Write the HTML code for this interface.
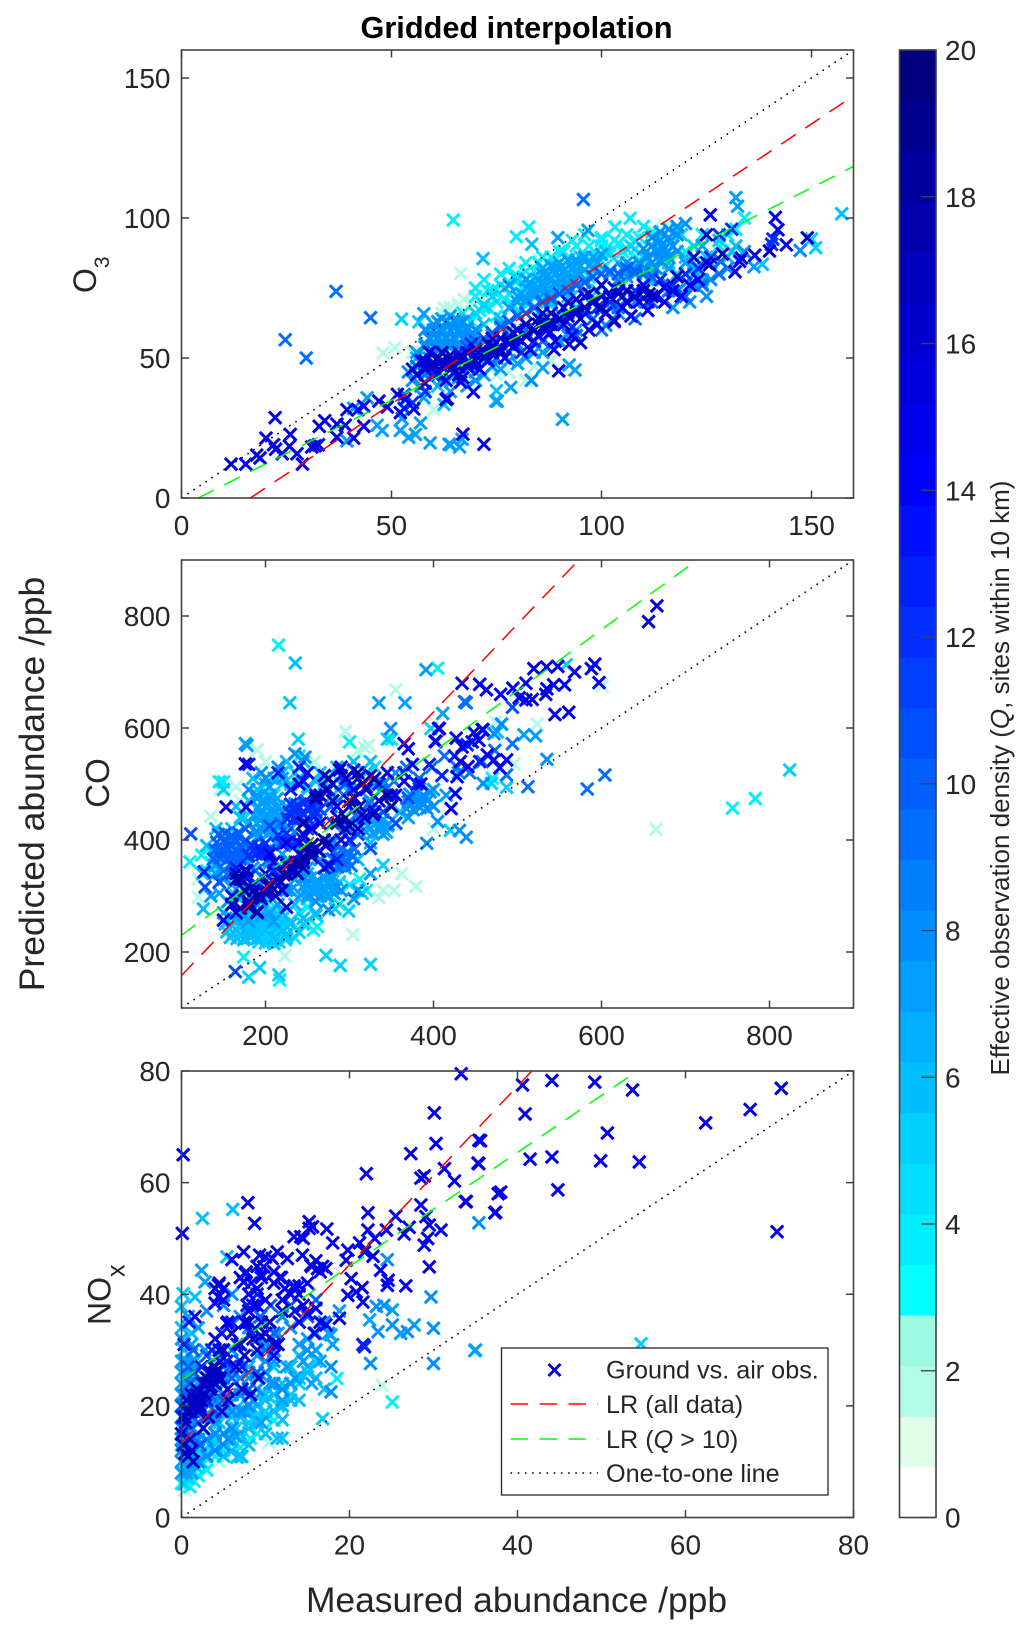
<!DOCTYPE html>
<html lang="en">
<head>
<meta charset="utf-8">
<title>Gridded interpolation</title>
<style>
html,body{margin:0;padding:0;background:#fff;}
svg{display:block;}
text{font-family:"Liberation Sans",sans-serif;fill:#262626;}
</style>
</head>
<body>
<svg id="figure" xmlns="http://www.w3.org/2000/svg" width="1033" height="1636" viewBox="0 0 1033 1636">
<rect x="0" y="0" width="1033" height="1636" fill="#fff"/>
<text x="516.5" y="38" text-anchor="middle" font-size="30.7" font-weight="bold" style="fill:#000">Gridded interpolation</text>
<text transform="translate(44,784) rotate(-90)" text-anchor="middle" font-size="35.5">Predicted abundance /ppb</text>
<text x="516.5" y="1612" text-anchor="middle" font-size="35.4">Measured abundance /ppb</text>
<text transform="translate(96,293) rotate(-90)" font-size="32">O<tspan font-size="21" dy="13">3</tspan></text>
<text transform="translate(109,783) rotate(-90)" text-anchor="middle" font-size="33">CO</text>
<text transform="translate(110.5,1325) rotate(-90)" font-size="32">NO<tspan font-size="25" dy="14">x</tspan></text>
<text transform="translate(1009,778) rotate(-90)" text-anchor="middle" font-size="26">Effective observation density (<tspan font-style="italic">Q</tspan>, sites within 10 km)</text>
<g id="panels"></g>
<g id="colorbar"></g>
<g id="legend">
  <rect x="501.5" y="1348" width="326.5" height="147" fill="#fff" stroke="#262626" stroke-width="1.3"/>
  <path d="M548.5 1364L560.5 1376M548.5 1376L560.5 1364" stroke="#0000e0" stroke-width="2.9" fill="none"/>
  <text x="606" y="1378.5" font-size="25.2">Ground vs. air obs.</text>
  <line x1="510.5" y1="1404" x2="598" y2="1404" stroke="#ff0000" stroke-width="1.4" stroke-dasharray="17.5 11.5"/>
  <text x="606" y="1413" font-size="25.2">LR (all data)</text>
  <line x1="510.5" y1="1439" x2="598" y2="1439" stroke="#00ff00" stroke-width="1.4" stroke-dasharray="17.5 11.5"/>
  <text x="606" y="1448" font-size="25.2">LR (<tspan font-style="italic">Q</tspan> &gt; 10)</text>
  <line x1="510.5" y1="1473" x2="598" y2="1473" stroke="#000" stroke-width="1.5" stroke-dasharray="1.6 5.6"/>
  <text x="606" y="1482" font-size="25.2">One-to-one line</text>
</g>
</svg>
<script>
/* ---------- O3 panel ---------- */
const o3XTicks = [0,50,100,150];
const o3YTicks = [0,50,100,150];
const o3RedX = [16.4,160];
const o3RedY = [0,143.6];
const o3GreenX = [4,160];
const o3GreenY = [0,118.4];
const o3OneX = [0,160];
const o3OneY = [0,160];
const o3Q2x = [48,50.8,60,62.5,62,64,66,67.3,69,66.5,
71,72,60,58,55,53,57,75,78,82,
85,90,112,115,128,130,84,88,76,80];
const o3Q2y = [51.8,53.7,31.5,67.9,66,68,69,70.9,70,80.2,
72,75,58,55,52,33,37,44,45,42,
85,88,96,97,92,90,47,49,76,82];
const o3Q4x = [64.7,79.7,82.7,103.2,106.8,96,93,100,110,118,
70,72,74,76,78,80,82,84,86,88,
90,92,94,96,98,100,102,104,106,108,
73,77,81,85,89,93,97,101,105,109,
112,116,120,124,128,132,134,122,126,130,
62,65,67,69,71,75,79,83,87,91];
const o3Q4y = [99.3,93.3,96.8,96.8,99.9,94,92,93,97,96,
75,78,74,80,82,79,84,81,86,83,
88,85,90,86,84,90,87,91,89,92,
68,71,73,76,78,81,79,83,82,85,
90,92,88,94,90,96,100,84,86,94,
61,64,66,63,67,65,69,70,72,74];
const o3WashX = [70,73,76,79,82,85,88,91,94,97,
100,103,106,109,112,72,75,78,81,84,
87,90,93,96,99,102,105,108];
const o3WashY = [72,74,76,79,81,84,86,88,90,90,
92,92,94,93,95,68,70,73,75,78,
80,82,84,86,86,88,88,89];
const o3Q5x = [52.4,56.5,151,150,60,63,66,68,70,72,
74,77,80,83,86,89,92,95,98,101,
104,107,110,113,116,119,122,125,128,131,
87,90,93,96,99,102,105,108,111,114];
const o3Q5y = [63.9,62.9,89.4,92.5,60,58,62,64,66,69,
72,75,78,74,80,83,79,86,82,88,
84,90,86,92,88,94,90,86,92,88,
70,75,72,78,74,80,76,82,78,84];
const o3Q6x = [71.8,83.4,157.2,138.3,62.5,60,56,58,64,66,
68,70,72,74,76,78,80,82,84,86,
88,90,92,94,96,98,100,102,104,106,
108,110,112,114,116,118,120,122,124,126,
128,130,132,75,74.8,61,59,65,69,73];
const o3Q6y = [85.5,90.6,101.5,83.5,33.4,56,50,45,56,52,
60,56,62,58,64,60,66,62,68,64,
70,66,72,68,74,70,76,72,78,74,
80,76,82,78,84,80,86,82,78,84,
80,86,90,38.3,34.6,40,43,44,47,50];
const o3Q7x = [132,132.4,120.3,136.3,96.8,89.6,92.3,93.7,86,83.3,
78.4,90.7,47.8,46.6,52.1,54.1,56.9,55.7,59.2,64.1,
63.7,66.2,66.8,39.4,44.2,41,52.5,57.7,57.7,75.2,
56,58,60,62,64,66,68,70,57,59,
61,63,65,67,69,71,60,62,64,66,
76,78,80,82,84,86,88,90,92,94,
78,82,86,90,94,98,102,106,110,114,
112,116,120,118,122,124,114,110,106,102];
const o3Q7y = [107.3,104.2,77,82.6,95.6,93,47.5,45.7,46.5,42,
39.5,28.1,24.1,26,24.1,21.7,26.8,22.7,19.7,19,
19.2,18.2,21,20.4,35.8,32,28.4,35.8,65.8,34.6,
52,55,58,60,62,63,61,58,48,50,
53,55,57,59,56,54,62,64,65,54,
62,68,72,70,74,76,72,78,76,80,
76,78,80,82,84,82,80,84,80,88,
78,82,84,88,80,90,90,74,70,68];
const o3FringeX = [62,66,70,74,78,82,86,90,94,64,
68,72,76,80,84,88,92];
const o3FringeY = [42,43,45,47,49,50,52,56,60,38,
40,44,46,48,52,54,58];
const o3Q8x = [147.3,123.9,83.3,101,54,55,57,70,74,78,
80,84,88,92,96,100,104,108,112,116,
118,122,126,128.4,130,134,125,121,117,113];
const o3Q8y = [88.4,76.7,42,61.7,45,42,40,42,47,52,
55,60,62,66,68,72,66,70,72,76,
74,76,78,84.5,82,88,72,70,68,82];
const o3BlobAx = [58,60,62,64,66,68,70,59,61,63,65,67,69,58,60,62,64,66,68,70,61,63,65,67];
const o3BlobAy = [54,54,54,54,54,54,54,57,57,57,57,57,57,60,60,60,60,60,60,60,63,63,63,63];
const o3BlobBx = [80,82,84,86,88,90,92,81,83,85,87,89,91,93,95,83,85,87,89,91,93,95,97,99,86,88,90,92,94,96,98,100];
const o3BlobBy = [70,71,72,73,74,75,76,73,74,75,76,77,78,79,80,77,78,79,80,81,82,83,83,84,82,83,84,85,85,86,86,87];
const o3BlobCx = [104,106,108,110,112,114,116,105,107,109,111,113,115,117,110,112,114,116,118,112,114,116,118,120];
const o3BlobCy = [78,79,80,82,84,85,86,82,83,84,86,88,89,90,89,90,92,93,94,93,95,96,97,98];
const o3Q9x = [95.7,45,36.8,24.7,29.7,128.4,53,56,58,60,
62,66,70,74,78,82,86,90,94,98,
100,104,108,112,116,120,124,128,75,79];
const o3Q9y = [106.6,64.4,73.8,56.5,50,84.5,37,47,44,52,
47,50,52,55,58,60,56,62,58,64,
60,68,64,70,74,72,76,80,50,54];
const o3MidX = [66,68,70,72,74,76,78,80,82,84,86,88,90,92,94,96,98,100,102,104,106,108,110,112];
const o3MidY = [52,54,56,57,59,61,63,65,66,68,70,71,73,74,76,77,79,80,81,80,82,81,80,79];
const o3Q12x = [140.8,60,63,66,69,72,75,78,81,84,
87,90,93,96,99,102,105,108,111,114,
117,120,123,126,55,58,53,128,140.5,131];
const o3Q12y = [92.5,44,48,52,55,50,53,57,52,56,
62,64,61,66,68,70,72,74,70,78,
76,80,82,86,34,38,32,94,90.6,96];
const o3Q15x = [11.8,15.3,17.9,18.7,20.1,22.3,21.9,22.4,24,25.9,
25.7,27.5,28.8,31,31.8,32.6,32.8,34.1,37,37,
39,39.4,42,43.4,43.4,41,47,49,51.4,52.1,
53.3,55.3,63.3,67,72,125.9,141.4,142,144,136.5,
133.3,132.9,131.8,114.9,87.8,88.7,89.8,69.5,66.5,63,
55,57,59,60,62,64,66,68,70,58,
61,63,65,67,69,71,73,75,77,79,
81,83,85,87,89,91,93,95,97,99,
101,103,105,107,109,111,113,115,117,119,
121,123,125,110,104,96,92,86,80,74];
const o3Q15y = [12.1,12.1,15.3,14.3,21.4,28.7,19,17.4,15.8,22.7,
18.5,15.8,12.1,18.2,18.6,19,25.6,27.6,26.4,21.7,
26,31.5,31.5,32.8,25.6,21.4,34.6,32.5,37,30.5,
35.2,31.8,35.5,22.8,19.2,101.1,100.2,95.8,90.4,86.7,
85.7,84.5,80.8,75.2,59.2,53,45.4,37.9,41.4,35.2,
46,49,52,47,49,46,50,47,51,41,
44,42,45,43,48,46,49,53,50,54,
56,53,58,60,56,62,58,64,60,62,
66,63,68,65,70,67,72,70,74,72,
76,78,84,76,74,72,70,66,60,57];
const o3CoreX = [56,58,60,62,64,66,68,70,72,74,
76,78,80,82,84,86,88,90,92,94,
96,98,100,102,104,106,108,110,58,61,
64,67,70,73,76,79,82,85,88,91,
94,97,100,103];
const o3CoreY = [44,46,48,47,48,47,48,49,50,52,
53,55,57,58,60,61,62,64,65,67,
68,70,72,72,73,70,72,74,49,50,
51,50,53,55,57,59,62,64,66,68,
71,73,76,75];
const o3Q17x = [149,140,128.8,125.7,111.3,103,95,92.3,85,82,
78,76,72,68,65,62,60,84,88,100,
106,112,122,125,118,98,94,90,74,66];
const o3Q17y = [92.9,88.2,87.2,83.3,72.8,63.5,55.5,54.9,62,58,
56,52,52,52,48,52,48,60,63,68,
74,72,86,94,79,70,66,64,54,44];
const o3Series = [[2,o3Q2x,o3Q2y],[4,o3Q4x,o3Q4y],[4,o3WashX,o3WashY],[5,o3Q5x,o3Q5y],[6,o3Q6x,o3Q6y],[7,o3Q7x,o3Q7y],[7,o3FringeX,o3FringeY],[8,o3Q8x,o3Q8y],[8,o3BlobAx,o3BlobAy],[7,o3BlobBx,o3BlobBy],[8,o3BlobCx,o3BlobCy],[9,o3Q9x,o3Q9y],[10,o3MidX,o3MidY],[12,o3Q12x,o3Q12y],[15,o3Q15x,o3Q15y],[16,o3CoreX,o3CoreY],[17,o3Q17x,o3Q17y]];

/* ---------- CO panel ---------- */
const coXTicks = [200,400,600,800];
const coYTicks = [200,400,600,800];
const coRedX = [100,573];
const coRedY = [158,900];
const coGreenX = [100,714];
const coGreenY = [230,900];
const coOneX = [100,900];
const coOneY = [100,900];
const coQ2x = [355,295,323,190,135,120,223,304,379,353,
335,665,601,523.5,474,495.7,146,165,170,200,
245,258,285,310,318,300,340,362,400,120];
const coQ2y = [668,594,569,561,442,298,193,231,317,310,
297,419,675,607,611,536,490,495,470,540,
520,540,520,560,565,290,310,340,420,330];
const coQ4x = [215.5,405,150,145,110,124,174,217,257,783,
756,135,130,145,160,175,190,205,220,235,
200,210,225,240,250,262,275,288,300,312,
320,180,195,210,240,270,300,330,350,470];
const coQ4y = [748,707,504,504,361,373,191,150,239,474,
457,360,345,340,385,370,300,290,240,225,
225,215,230,270,280,245,300,285,320,330,
310,270,440,480,550,505,575,530,580,510];
const coQ5x = [824,558,469,487,420,239,193,180,216,272,
289,325,299,283,340,315,288,272,260,245,
397,345,150,175,190,205,220,235,250,165,
180,195,210,225,240,170,185,200,215,230];
const coQ5y = [525,713,501,494,417,580,172,155,159,194,
176,178,273,277,355,305,325,300,265,250,
599,580,490,440,430,470,500,520,490,300,
235,225,215,225,235,260,280,250,265,255];
const coBlobDx = [192,200,208,216,224,194,202,210,218,190,198,206,214,222,196,204,212,220,198,206,214];
const coBlobDy = [218,216,220,218,222,232,230,234,232,246,244,248,246,250,260,258,262,260,272,274,270];
const coQ6x = [235.5,229,141,126,125,140,155,170,185,200,
215,230,245,260,175,190,205,220,235,250,
165,180,195,210,225,165,180,195,210,225,
476,130,250,265,280,295,310,325,345,360];
const coQ6y = [716,645,420,277,340,370,290,245,235,240,
245,250,260,270,225,240,255,270,285,295,
255,275,260,225,232,410,430,450,420,460,
593,390,340,320,345,375,365,395,425,450];
const coBlobCx = [152,160,168,176,184,154,162,170,178,186,158,166,174,182,190,160,170,180,190];
const coBlobCy = [250,248,246,250,246,236,234,232,236,232,226,224,222,226,224,262,260,262,260];
const coUpperX = [160,170,180,190,200,210,220,230,240,250,260,270,280,290,300,310,320,330,165,185,205,225,245,265,285,305,325];
const coUpperY = [420,440,470,490,500,510,520,500,510,495,505,500,480,500,490,510,520,500,460,510,480,540,540,520,530,540,540];
const coQ7x = [391,335,366,411,176,178,507.6,521.5,481,150,
140,155,170,185,200,215,230,175,190,205,
220,235,250,265,280,295,310,325,340,355,
370,385,400,415,430,190,205,220,235,250,
160,175,205,220,235,250,265,280,295,310];
const coQ7y = [704,645,645,626,572,569,588,586,607,380,
355,340,330,350,380,400,420,385,405,360,
375,390,320,300,335,350,310,340,410,430,
440,470,490,480,520,480,495,510,465,440,
400,365,440,450,330,350,380,395,410,430];
const coFillX = [140,150,160,170,180,190,200,210,220,230,145,155,165,175,185,195,205,215,225,135,150,165,180,195,210];
const coFillY = [340,330,320,300,310,320,330,340,350,360,305,290,270,265,280,290,270,285,310,300,270,260,255,265,255];
const coBlobBx = [188,196,204,212,220,190,198,206,214,186,194,202,210,218,192,200,208,216,190,198,206,214];
const coBlobBy = [414,416,412,416,414,430,428,432,430,444,446,442,446,444,458,460,456,460,474,472,476,474];
const coBlobEx = [242,250,258,266,274,282,244,252,260,268,276,284,246,254,262,270,278];
const coBlobEy = [302,300,304,302,300,304,316,314,318,316,320,314,330,332,328,334,330];
const coBlobHx = [320,328,336,344,322,330,338,346,324,332,340];
const coBlobHy = [414,412,416,414,426,428,424,428,438,440,436];
const coQ8x = [235,247,349,481,535,459,405,431,439,392,
472,200,215,180,195,145,160,175,190,205,
220,235,250,265,280,295,310,325,340,355,
170,185,200,215,230,245,260,275,290,305];
const coQ8y = [554,548,599,607,544,501,433,417,405,394,
590,510,530,490,520,380,360,395,415,375,
400,415,380,365,400,425,440,470,500,520,
320,305,330,345,310,335,290,275,310,295];
const coBlobGx = [368,376,384,392,400,370,378,386,394,372,380,388,396];
const coBlobGy = [456,454,458,456,460,468,470,466,472,482,484,480,486];
const coQ9x = [604,583,439,437,494,487,512.4,159,174,188,
203,218,233,248,263,278,293,308,323,338,
353,368,383,398,413,428,443,458,473,150];
const coQ9y = [516,491,645,647,572,516,495,355,375,345,
365,430,450,470,440,460,480,445,465,490,
505,530,510,530,550,530,520,540,560,345];
const coBlobFx = [278,286,294,302,280,288,296,304,282,290,298,306];
const coBlobFy = [354,352,356,354,366,368,364,370,380,382,378,384];
const coBlobAx = [138,146,154,162,170,178,140,148,156,164,172,142,150,158,166,174,144,152,160,168,176];
const coBlobAy = [366,368,364,368,366,370,382,380,384,382,386,396,398,394,398,396,410,412,408,412,420];
const coQ11x = [111,128,164,494,145,160,175,190,205,220,
235,250,265,280,295,310,325,340,355,370];
const coQ11y = [411,316,165,637,325,340,310,375,425,395,
440,420,455,430,500,410,385,450,430,475];
const coBlobIx = [226,234,242,250,258,228,236,244,252,260,230,238,246,254,262];
const coBlobIy = [438,436,440,438,442,450,452,448,454,450,464,462,466,464,470];
const coMidX = [180,188,196,204,184,192,200,220,228,236,244,215,225];
const coMidY = [372,376,374,380,390,388,394,392,398,396,402,408,412];
const coQ13x = [127,240,215,230,245,260,275,290,305,320,
165,180,195,210,225,240,255,270,285,300,
335,350,365,380,395,410,425,440,455,180];
const coQ13y = [343,530,520,490,505,470,490,515,525,495,
350,335,380,345,360,375,390,350,365,400,
500,480,520,500,535,515,550,570,540,535];
const coQ15x = [153,177,176,150,434,455,463,480,494.5,510,
502,510,517.6,535,533.6,543,556,544.6,561,519.5,
534.6,548,656,666,568,407,403,459,458,427,
434,446,454,464,472,479,487,432,441,428,
426,421,370,365,592,588,597,406,402,448,
160,170,180,190,200,210,220,165,175,185,
195,205,215,225,235,245,255,265,275,285,
295,305,315,325,335,345,355,365,375,385,
240,250,260,270,280,290,300,310,320,330,
200,215,230,245,260,275,290,225,240,255];
const coQ15y = [459,459,536,257,680,678,668,660,671,680,
654,650,651,670,660,677,677,624,628,706,
709,710,790,818,700,599,576,597,597,582,
566,575,578,552,543,529,543,540,531,513,
483,456,563,572,714,706,681,599,576,592,
300,330,285,270,340,360,310,270,345,320,
295,375,330,395,345,410,370,430,395,460,
420,490,445,515,470,520,480,505,535,500,
500,520,480,515,500,530,460,510,490,450,
305,320,345,360,385,355,400,280,395,420];
const coQ18x = [180,190,205,165,175,225,240,255,270,285,
300,315,330,345,350,295,310,275,260,245];
const coQ18y = [280,300,320,330,310,340,360,380,400,430,
470,500,510,480,460,440,520,510,475,430];
const coCoreX = [222,230,238,215,225,235,245,248,256,264,
272,245,255,165,172,178,186,194,202,210,
160,170,180,190,202,212,218,265,272,280,
288,296,300,306,312,300,310,318,328,286];
const coCoreY = [338,348,340,330,355,360,350,385,392,380,
390,370,372,340,330,345,310,300,308,312,
285,278,290,272,318,300,325,480,490,470,
525,510,470,475,460,425,420,440,445,440];
const coSeries = [[2,coQ2x,coQ2y],[4,coQ4x,coQ4y],[5,coQ5x,coQ5y],[5,coBlobDx,coBlobDy],[6,coQ6x,coQ6y],[6,coBlobCx,coBlobCy],[6,coUpperX,coUpperY],[7,coQ7x,coQ7y],[7,coFillX,coFillY],[7,coBlobBx,coBlobBy],[7,coBlobEx,coBlobEy],[7,coBlobHx,coBlobHy],[8,coQ8x,coQ8y],[8,coBlobGx,coBlobGy],[9,coQ9x,coQ9y],[9,coBlobFx,coBlobFy],[10,coBlobAx,coBlobAy],[11,coQ11x,coQ11y],[12,coBlobIx,coBlobIy],[12,coMidX,coMidY],[13,coQ13x,coQ13y],[15,coQ15x,coQ15y],[17,coCoreX,coCoreY],[18,coQ18x,coQ18y]];

/* ---------- NOx panel ---------- */
const noxXTicks = [0,20,40,60,80];
const noxYTicks = [0,20,40,60,80];
const noxRedX = [0,41.7];
const noxRedY = [13.3,80];
const noxGreenX = [0,54.3];
const noxGreenY = [24.6,80];
const noxOneX = [0,80];
const noxOneY = [0,80];
const noxQ2x = [23.9,5.4,10.4,0.4,3,4.5,6,1.8,7,10];
const noxQ2y = [23.7,10.9,13.4,4.9,9,10,12,8,15,16.5];
const noxQ4x = [25.1,11,8.2,1,0,0.5,0.8,1.5,1.2,2,
18.5,2.5,3,4,5,6,7,9,0.2,0.6];
const noxQ4y = [20.7,17.4,14.2,5.5,6.1,7,9,6.5,8,7.5,
24.9,9.5,8.5,11,12,13.5,12.5,15,8,10.5];
const noxQ5x = [0.2,54.7,16.8,0,1,2,3,4,0.5,1.5,
5,6,7,8,9,10,12,14,16,13,
2.5,3.5,4.5,5.5,6.5,7.5,8.5,9.5,10.5,11.5];
const noxQ5y = [40.1,31.1,17.7,13,11,12,11,13,15,14,
15,16,14,17,18,19,20,24,28,22,
16,14.5,17,19,16,21,19.5,22,24,20];
const noxBottomX = [0.3,0.8,1.3,1.8,2.3,0.5,1,1.5,2,2.8,3.3,3.8];
const noxBottomY = [6,7,8,9,10,9,10.5,11,12,12,13,14];
const noxQ6x = [6.1,2.5,5.4,1.6,0,11.4,12,7.2,6.6,34.9,
0,0.3,0.6,1,0,0.4,0.8,1.2,1.6,2,
3,4,5,6,7,8,9,10,11,12,
13,14,15,16,12,14,16,10,8,17];
const noxQ6y = [55.2,53.6,46.7,39.5,37.8,14.2,14.2,10.9,10.8,29.9,
34,30,26,22,18,20,16,33,28,24,
18,20,22,18,23,20,25,22,27,24,
27,29,26,30,17.5,21,25,15,27,23];
const noxLowerX = [6,7,8,9,10,11,12,13,7,8,9,10,11,12,13,14,15,5,6,7,8];
const noxLowerY = [14,15,16,17,18,19,20,21,18,19,20,21,22,23,24,25,27,11,12,11,13];
const noxQ7x = [2.4,2.8,35,25.1,22.4,26.1,27.7,17.8,18.8,0,
0.2,0.5,0.8,1.2,1.6,2,2.4,2.8,3.2,0.1,
3.6,4,4.5,5,5.5,6,6.5,7,7.5,8,
8.5,9,9.5,10,10.5,11,11.5,12,12.5,13,
13.5,14,14.5,15,15.5,16,16.5,17,17.5,18];
const noxQ7y = [44.3,42.2,30,37.2,35.4,33,34.5,32.7,37,32,
28,25,36,31,27,34,23,30,26,22,
21,17,29,24,20,26,14.5,22,19,25,
21,29,17,31,24,28,33,21,27,24,
25,31,28,32,24,30,28,35,33,31];
const noxBandX = [0,0.6,1.2,0,0.6,1.2,0,0.6,1.2,0,0.6,1.2,0,0.6,1.2,0,0.6,1.2,0,0.6,1.2,0,0.6,1.2,0,0.6,1.2,0,0.6,1.2,0,0.6,1.2];
const noxBandY = [8,8,8,10,10,10,12,12,12,14,14,14,16,16,16,18,18,18,20,20,20,22,22,22,24,24,24,26,26,26,28,28,28];
const noxQ8x = [29.7,30,30,35.4,24.5,22.5,23.2,24.1,23.4,25.1,
26.9,17.8,17.8,3,5,6,7,8,9,10,
11,12,13,14,15,16,0,0.3,0.7,1,
1.5,2,2.5,3,3.5,4,4.5,5,5.5,6];
const noxQ8y = [39.5,33.9,27.6,52.8,46.2,27.6,37.8,38,33.3,34.5,
33.3,22.5,27,37,38,40,36,34,32,28,
30,36,34,35,30,33,12,14,18,16,
19,15,21,25,18,15,23,27,14,30];
const noxTriangleX = [2,3,4,5,2,3,4,5,6,2,
3,4,5,6,7,8,2,3,4,5,
6,7,8,9,3,4,5,6,7,8,
9,10,11,12];
const noxTriangleY = [10,11,12,13,14,14,15,15,16,17,
18,18,19,19,19,20,21,21,21,22,
22,22,23,23,24,24,25,25,25,26,
26,26,24,23];
const noxQ10x = [0,0.5,1,1.5,2,2.5,3,0.2,0.8,1.4,
4,5,6,7,8,9,10,11,12,13,
15,16,2.2,3.4,4.6,5.8,7,8.2,9.4,10.6];
const noxQ10y = [20,22,24,26,17,19,29,16,27,30,
19,21,25,28,23,26,30,33,37,38,
36,39,13,22,25,27,31,33,36,38];
const noxQ13x = [0.1,0.6,1.2,1.8,2.4,3,0.3,0.9,21.8,21.6,
3.6,4.2,4.8,5.4,6,6.6,7.2,7.8,8.4,9];
const noxQ13y = [18,21,19,23,27,21,31,35,30.6,31,
30,26,33,28,35,31,27,38,33,40];
const noxUpperX = [4,4.5,5,7,7.7,8.3,9,9.5,11,11.7,
12.3,13.5,14,15.5,16,16.5,10,10.5,11,5.5,
6,7.5,8,4,4.5,7,9,12];
const noxUpperY = [41,42,39,43,44,42,45,43.5,42,43,
41,41,40,45,46,44,33,35,31,35,
33,35,37,32,30,31,38,37];
const noxQ15x = [0.2,0.1,33.3,30.1,30.3,27.3,35.6,35.4,22,28.9,
28.5,31.3,32.5,33.9,28.5,37.7,37.4,22.2,25.5,22.2,
23,24.4,27.1,26.5,29.1,29.5,30.9,29.3,28.9,29.5,
26.7,24.6,24.5,23.7,22.8,21.2,19.8,19.6,21.8,20.2,
21.5,19.8,20.8,21.6,7.9,8.7,6,7.4,15.2,15.6,
15.2,14.2,13.4,14.5,17.3,18,11.4,14.4,12.6,10.8,
10,9.3,9.8,15.4,16.2,17.2,16.8,7.6,7.4,4.4,
5,4.4,4,1.6,5.4,7.6,40.6,44.1,49.2,53.7,
71.4,67.7,62.4,40.9,50.7,35.4,41.5,44.1,49.9,54.5,
35.3,44.8,38,37.3,33.8,70.9,18.8,11.9,12.3,13.4,
13,12,9,9.5,10,11,8,8.5,14,15,
14.5,16,16.5,17.2,15,15.8,14,13.5,11,9.5];
const noxQ15y = [65,50.9,79.5,72.5,67,65.2,67.5,63.4,61.6,61.2,
60.8,62.5,60.3,56.6,56,58,54.7,54.6,54,51.5,
50,51.5,52,50.8,53.9,52.4,51.5,50,48.8,44.9,
41.5,42.5,41.6,44.3,46.8,49.2,47.9,46.1,47.6,42.8,
41.2,39.8,40.4,38.6,56.4,52.7,46.2,47.6,53,52.1,
51.8,50.3,50.3,50,51.7,49.2,47.6,47,46.4,46.4,
46.7,47,44.9,45.2,44.6,44.6,45,43.7,42.2,41.6,
41,39.5,38.4,36,34.8,34.8,77.5,78.3,78,76.6,
76.9,73.1,70.7,72.3,68.9,67.6,64.2,64.6,63.9,63.7,
63.5,58.7,58.3,54.6,56.6,51.2,35.7,43,41,41.5,
40,39,41,43,39,44,40,38,41.5,42,
38,37.5,35,34.5,36.5,33,35,37,29,35];
const noxQ16x = [0,0.5,1,1.5,2,2.5,3,3.5,4,4.5,
3,3.4,3.8,4.2,4.6,5,5.5,6,6.5,7,
7.5,8,8.5,9,10,10.5,9.5,1.2,0.4,0.6,
2.2,1.8,2.6,3.2,4.8,5.6,7.2,8.2,9.2,11.5];
const noxQ16y = [15,17,14,21,19,24,25,23.5,26,24.5,
24,26,27,25,28,30,23,33,27,31,
29,35,32,30,33,35,32.5,12,11.5,19,
20,22,16,18,19,21,23,22,25,31];
const noxCoreX = [2.5,3,3.5,4,2.8,3.4,4,4.6,0.4,1,
1.6,0.6,1.2,1.8,2.4,0.2,0.8,1.4];
const noxCoreY = [24,25,26,27,22,23,24,25,18,19,
20,21,22,23,21,13,11,10];
const noxSeries = [[2,noxQ2x,noxQ2y],[4,noxQ4x,noxQ4y],[5,noxQ5x,noxQ5y],[5,noxBottomX,noxBottomY],[6,noxQ6x,noxQ6y],[6,noxLowerX,noxLowerY],[7,noxQ7x,noxQ7y],[7,noxBandX,noxBandY],[8,noxQ8x,noxQ8y],[8,noxTriangleX,noxTriangleY],[10,noxQ10x,noxQ10y],[13,noxQ13x,noxQ13y],[15,noxUpperX,noxUpperY],[15,noxQ15x,noxQ15y],[16,noxQ16x,noxQ16y],[17,noxCoreX,noxCoreY]];

/* ---------- colour bar ---------- */
const colorbarTicks = [0,2,4,6,8,10,12,14,16,18,20];
const colorbarLevels = 29;
const colorbarMax = 20;
const paleColors = ['#ffffff','#dffde9','#b2fbe6','#9bfae0'];

const NS = 'http://www.w3.org/2000/svg';
const panelsGroup = document.getElementById('panels');
const colorbarGroup = document.getElementById('colorbar');

function levelColor(i){
  if(i < paleColors.length) return paleColors[i];
  const k = i - 4;
  if(k <= 16) return 'rgb(0,' + Math.max(0, 255 - k*16) + ',255)';
  return 'rgb(0,0,' + Math.max(128, 255 - (k-16)*16) + ')';
}
function densityColor(q){
  return levelColor(Math.min(colorbarLevels-1, Math.floor(q/colorbarMax*colorbarLevels)));
}
function make(tag, parent){
  const el = document.createElementNS(NS, tag);
  parent.appendChild(el);
  return el;
}

function drawPanel(name, box, xRange, yRange, xTicks, yTicks, series, redLine, greenLine, oneLine){
  const sx = v => box.left + (v - xRange[0]) / (xRange[1] - xRange[0]) * box.width;
  const sy = v => box.top + box.height - (v - yRange[0]) / (yRange[1] - yRange[0]) * box.height;
  const g = make('g', panelsGroup);
  
  

  const bg = make('rect', g);
  
  
  bg.setAttribute('x', box.left);
  bg.setAttribute('y', box.top);
  bg.setAttribute('width', box.width);
  bg.setAttribute('height', box.height);
  bg.setAttribute('fill', '#fff');

  series.forEach(function(band){
    const q = band[0], xs = band[1], ys = band[2];
    const color = densityColor(q);
    const n = Math.min(xs.length, ys.length);
    for(let i = 0; i < n; i++){
      const px = sx(xs[i]), py = sy(ys[i]), s = 6.2;
      const p = make('path', g);
      
      
      p.setAttribute('d', 'M' + (px-s) + ' ' + (py-s) + 'L' + (px+s) + ' ' + (py+s) + 'M' + (px-s) + ' ' + (py+s) + 'L' + (px+s) + ' ' + (py-s));
      p.setAttribute('stroke', color);
      p.setAttribute('stroke-width', '3');
      p.setAttribute('fill', 'none');
    }
  });

  [[redLine,'#ff0000','17.5 11.5','1.5','regression-all-data'],[greenLine,'#00ff00','17.5 11.5','1.5','regression-q10'],[oneLine,'#000000','1.6 5.6','1.6','one-to-one-line']].forEach(function(d){
    const l = make('line', g);
    
    
    l.setAttribute('x1', sx(d[0][0][0]));
    l.setAttribute('y1', sy(d[0][1][0]));
    l.setAttribute('x2', sx(d[0][0][1]));
    l.setAttribute('y2', sy(d[0][1][1]));
    l.setAttribute('stroke', d[1]);
    l.setAttribute('stroke-width', d[3]);
    l.setAttribute('stroke-dasharray', d[2]);
  });

  const frame = make('rect', g);
  
  
  frame.setAttribute('x', box.left);
  frame.setAttribute('y', box.top);
  frame.setAttribute('width', box.width);
  frame.setAttribute('height', box.height);
  frame.setAttribute('fill', 'none');
  frame.setAttribute('stroke', '#404040');
  frame.setAttribute('stroke-width', '1.6');

  xTicks.forEach(function(v){
    const px = sx(v);
    const t = make('path', g);
    
    
    t.setAttribute('d', 'M' + px + ' ' + (box.top+box.height) + 'v-7.5M' + px + ' ' + box.top + 'v7.5');
    t.setAttribute('stroke', '#404040');
    t.setAttribute('stroke-width', '1.5');
    const label = make('text', g);
    
    
    label.setAttribute('x', px);
    label.setAttribute('y', box.top + box.height + 37);
    label.setAttribute('text-anchor', 'middle');
    label.setAttribute('font-size', '28');
    label.textContent = v;
  });
  yTicks.forEach(function(v){
    const py = sy(v);
    const t = make('path', g);
    
    
    t.setAttribute('d', 'M' + box.left + ' ' + py + 'h7.5M' + (box.left+box.width) + ' ' + py + 'h-7.5');
    t.setAttribute('stroke', '#404040');
    t.setAttribute('stroke-width', '1.5');
    const label = make('text', g);
    
    
    label.setAttribute('x', box.left - 11);
    label.setAttribute('y', py + 10);
    label.setAttribute('text-anchor', 'end');
    label.setAttribute('font-size', '28');
    label.textContent = v;
  });
}

drawPanel('o3', {left:181.5, top:50, width:672, height:448}, [0,160], [0,160], o3XTicks, o3YTicks, o3Series, [o3RedX,o3RedY], [o3GreenX,o3GreenY], [o3OneX,o3OneY]);
drawPanel('co', {left:181.5, top:560, width:672, height:448}, [100,900], [100,900], coXTicks, coYTicks, coSeries, [coRedX,coRedY], [coGreenX,coGreenY], [coOneX,coOneY]);
drawPanel('nox', {left:181.5, top:1071, width:672, height:446.5}, [0,80], [0,80], noxXTicks, noxYTicks, noxSeries, [noxRedX,noxRedY], [noxGreenX,noxGreenY], [noxOneX,noxOneY]);

(function drawColorbar(){
  const left = 899.5, right = 936, top = 50, bottom = 1517.5;
  const cy = v => bottom - v / colorbarMax * (bottom - top);
  for(let i = 0; i < colorbarLevels; i++){
    const lo = i / colorbarLevels * colorbarMax, hi = (i+1) / colorbarLevels * colorbarMax;
    const seg = make('rect', colorbarGroup);
    
    
    seg.setAttribute('x', left);
    seg.setAttribute('y', cy(hi));
    seg.setAttribute('width', right - left);
    seg.setAttribute('height', cy(lo) - cy(hi) + 0.5);
    seg.setAttribute('fill', levelColor(i));
  }
  const frame = make('rect', colorbarGroup);
  
  
  frame.setAttribute('x', left);
  frame.setAttribute('y', top);
  frame.setAttribute('width', right - left);
  frame.setAttribute('height', bottom - top);
  frame.setAttribute('fill', 'none');
  frame.setAttribute('stroke', '#404040');
  frame.setAttribute('stroke-width', '1.6');
  colorbarTicks.forEach(function(v){
    const py = cy(v);
    const t = make('line', colorbarGroup);
    
    
    t.setAttribute('x1', right - 15);
    t.setAttribute('x2', right);
    t.setAttribute('y1', py);
    t.setAttribute('y2', py);
    t.setAttribute('stroke', '#404040');
    t.setAttribute('stroke-width', '1.3');
    const label = make('text', colorbarGroup);
    
    
    label.setAttribute('x', 945);
    label.setAttribute('y', py + 10);
    label.setAttribute('font-size', '28');
    label.textContent = v;
  });
})();

const legendGroup = document.getElementById('legend');
legendGroup.parentNode.appendChild(legendGroup);
</script>
</body>
</html>
